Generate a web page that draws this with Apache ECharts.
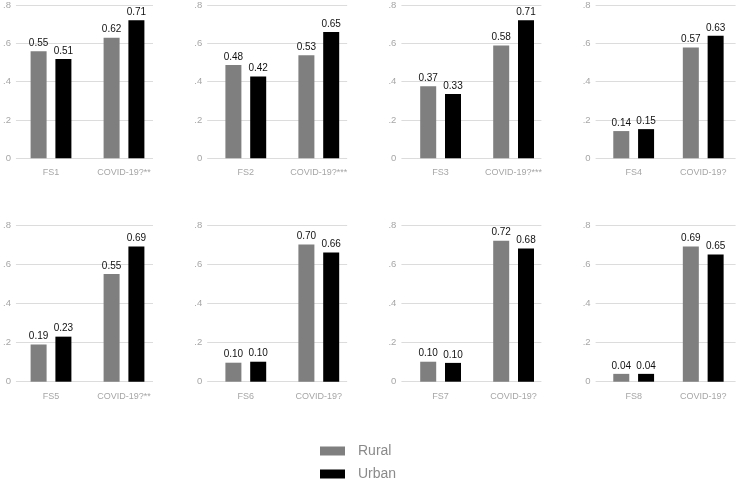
<!DOCTYPE html>
<html>
<head>
<meta charset="utf-8">
<script src="https://cdn.jsdelivr.net/npm/echarts@6/dist/echarts.min.js"></script>
<style>html,body{margin:0;padding:0;background:#fff;}#c{width:738px;height:479px;}</style>
</head>
<body>
<div id="c"></div>
<script>
const fsLabels = ['FS1','FS2','FS3','FS4','FS5','FS6','FS7','FS8'];
const covidLabels = ['COVID-19?**','COVID-19?***','COVID-19?***','COVID-19?','COVID-19?**','COVID-19?','COVID-19?','COVID-19?'];
const ruralFS = [0.55,0.48,0.37,0.14,0.19,0.097,0.102,0.04];
const urbanFS = [0.51,0.42,0.33,0.15,0.23,0.102,0.096,0.04];
const ruralCovid = [0.62,0.53,0.58,0.57,0.55,0.70,0.72,0.69];
const urbanCovid = [0.71,0.65,0.71,0.63,0.69,0.66,0.68,0.65];
const yTicks = [0, 0.2, 0.4, 0.6, 0.8];
const yTickLabels = ['0', '.2', '.4', '.6', '.8'];
const seriesNames = ['Rural', 'Urban'];
const colors = ['#7f7f7f', '#000000'];

const FONT = '"Liberation Sans", Arial, sans-serif';
const grids = [], xAxes = [], yAxes = [], series = [];
const rowTop = [2.7, 225], rowH = [155.6, 156.7];
for (let i = 0; i < 8; i++) {
  const r = Math.floor(i / 4), c = i % 4;
  grids.push({left: 13 + c * 194.2, top: rowTop[r], width: 140, height: rowH[r]});
  grids.push({left: 14.5 + c * 194.8, top: rowTop[r], width: 146, height: rowH[r]});
  xAxes.push({gridIndex: 2*i, type: 'value', min: 0, max: 1, show: false});
  xAxes.push({gridIndex: 2*i+1, type: 'category', data: [fsLabels[i], covidLabels[i]],
    boundaryGap: true, axisLine: {show: false}, axisTick: {show: false},
    axisLabel: {color: '#a6a6a6', fontSize: 9, fontFamily: FONT, margin: 10, interval: 0}});
  yAxes.push({gridIndex: 2*i, type: 'value', min: yTicks[0], max: yTicks[yTicks.length-1], interval: 0.2,
    axisLine: {show: false}, axisTick: {show: false},
    splitLine: {show: true, lineStyle: {color: '#dcdcdc', width: 1}},
    axisLabel: {color: '#a6a6a6', fontSize: 9.5, fontFamily: FONT, margin: 5,
      formatter: v => yTickLabels[yTicks.findIndex(t => Math.abs(t - v) < 1e-6)]}});
  yAxes.push({gridIndex: 2*i+1, type: 'value', min: 0, max: 0.8, show: false});
  const vals = [[ruralFS[i], ruralCovid[i]], [urbanFS[i], urbanCovid[i]]];
  for (let s = 0; s < 2; s++) {
    series.push({
      name: seriesNames[s], type: 'bar', xAxisIndex: 2*i+1, yAxisIndex: 2*i+1,
      data: vals[s], barWidth: 16, barGap: '55%',
      itemStyle: {color: colors[s]},
      label: {show: true, position: 'top', distance: 3, color: '#111', fontSize: 10, fontFamily: FONT,
        formatter: p => p.value.toFixed(2)},
      emphasis: {disabled: true}, animation: false
    });
  }
}

const legends = seriesNames.map((name, k) => ({
  data: [name], orient: 'vertical', left: 320, top: 444 + k * 23,
  itemWidth: 25, itemHeight: 9, icon: 'rect',
  textStyle: {color: '#8a8a8a', fontSize: 14, fontFamily: FONT, padding: [0, 0, 0, 8]},
  selectedMode: false, padding: 0
}));

const chart = echarts.init(document.getElementById('c'));
chart.setOption({
  animation: false,
  grid: grids, xAxis: xAxes, yAxis: yAxes, series: series,
  legend: legends
});
</script>
</body>
</html>
